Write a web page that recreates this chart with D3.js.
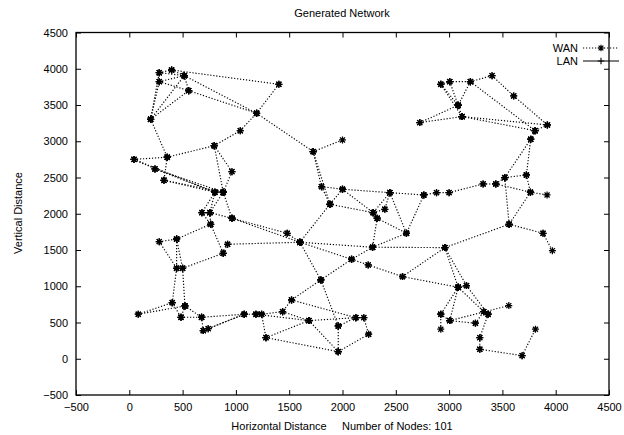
<!DOCTYPE html>
<html>
<head>
<meta charset="utf-8">
<script src="https://cdn.jsdelivr.net/npm/d3@7"></script>
<style>
  body { margin: 0; background: #fff; }
  text { font-family: "Liberation Sans", Arial, Helvetica, sans-serif; fill: #000; }
</style>
</head>
<body>
<svg id="chart" width="624" height="435"></svg>
<script>
// Node positions of the generated network
const nodeName = ["A1","A2","A3","A4","A5","A6","A7","A8","A9","A10","A11","A12","A13","A14","A15","A16","A17","A18","A19","A20","A21","A22","A23","A24","A25","A26","A27",
  "M1","M2","M3","M4","M5","M6","M7","M8","M9","M10","M11","M12","M13","M14","M15","M16","M17","M18",
  "R1","R2","R3","R4","R5","R6","R7","R8","R9","R10","R11","R12","R13","R14","R15","R16","R17","R18","R19","R20","R21","R22","R23",
  "R24","R25","R27","R28","R29","R30","R31","R32","R33","R34","R35","R36","R37",
  "B1","B2","B3","B4","B5","B6","B7","B8","B9","B10","B11",
  "C1","C2","C3","C4","C5","C6","C7","C8"];
const nodeX = [281,397,516,281,557,200,1041,797,1403,1194,44,356,241,325,963,803,881,681,756,963,763,281,444,922,881,444,500,
  1725,2000,1803,2000,1882,2444,2763,2288,2325,2397,2600,1481,1600,2282,2085,2241,2563,1797,
  2922,3006,3200,3403,3606,3085,3122,3922,3806,3766,2725,2882,3000,3319,3438,3522,3725,3763,3919,3563,3881,3969,2960,
  3163,3085,2922,3006,3325,3366,3247,3560,3288,3288,3685,3810,2922,
  1522,1438,1188,1241,1282,1685,1960,2125,2200,2245,1960,
  84,403,522,485,678,694,740,1078];
const nodeY = [3946,3983,3905,3822,3698,3303,3146,2939,3786,3386,2750,2780,2618,2462,2581,2297,2297,2015,2015,1938,1855,1615,1652,1579,1455,1248,1248,
  2857,3018,2374,2338,2131,2291,2259,2015,1938,2062,1731,1731,1607,1538,1372,1294,1133,1087,
  3786,3822,3822,3905,3625,3497,3340,3225,3146,3028,3257,2291,2291,2411,2411,2498,2535,2297,2259,1855,1731,1491,1533,
  1009,986,614,526,650,614,490,733,291,131,43,407,407,
  811,650,614,614,291,526,452,567,567,338,98,
  614,774,728,572,572,388,415,614];

// WAN links (pairs of node names)
const edgeFrom = ["A1","A1","A2","A4","A4","A3","A2","A3","A5","A9","A6","A6","A6","A6","A6","A11","A12","A8","A7","A8","A8","A11","A11","A12","A13","A13","A14","A14","A15","A16","A16","A17","A17","A18","A18","A19","A21","A22","A22","A23","A23","A21","A24","A25","A20","A24","A19",
  "A10","M1","M1","M1","M3","M4","M4","M6","M5","M4","M8","M8","M6","M6","M9","M6","M7","M7","M9","M12","M12","M13","M13","M13","M13","M14","M14","M14","M15","M16","M15","M17","M17","M3",
  "R1","R2","R3","R2","R1","R1","R3","R4","R5","R3","R7","R7","R6","R11","R11","R9","R8","R10","R10",
  "R12","R13","R14","R15","R16","R15","R17","R18","R16","R18","R20","R21","R20","R23","R23",
  "R24","R25","R25","R25","R24","R27","R28","R28","R29","R31","R30","R33","R34","R35","R37",
  "M18","M18","B1","B1","B2","B3","B4","B5","B5","B6","B6","B7","B7","B8","B9","B10","B2","B3","B3",
  "C1","C1","C2","C3","C2","C3","C4","C3","C5","C6","C7","C5","C6"];
const edgeTo = ["A2","A3","A3","A3","A5","A5","A9","A10","A10","A10","A1","A4","A3","A5","A12","A12","A8","A7","A10","A15","A17","A13","A16","A14","A16","A17","A16","A17","A17","A18","A19","A19","A20","A19","A21","A21","A23","A23","A26","A26","A27","A25","A25","A27","M13","M13","A20",
  "M1","M2","M3","M5","M4","M5","M6","M7","M8","M8","M9","M10","M10","M8","M11","M11","M11","R12","M14","M13","A20","M14","M5","M15","M18","M15","M11","R23","M18","M17","M16","R23","R25","M5",
  "R2","R3","R4","R6","R6","R7","R6","R5","R8","R9","R9","R8","R7","R6","R7","R10","R9","R16","R17",
  "R13","R14","R15","R16","R17","R18","R18","R19","R20","R20","R21","R22","R23","R24","R25",
  "R25","R27","R28","R29","R30","R28","R31","R32","R30","R29","R33","R34","R35","R36","R27",
  "B1","B7","B2","B8","B4","B6","B5","B11","B6","B8","B11","B8","B11","B9","B10","B11","B6","C8","B4",
  "C2","C3","A26","A27","C4","C4","C5","C5","C6","C8","C8","C8","C7"];

const xTicks = [-500,0,500,1000,1500,2000,2500,3000,3500,4000,4500];
const yTicks = [-500,0,500,1000,1500,2000,2500,3000,3500,4000,4500];

const svg = d3.select("#chart");
const plotLeft = 76, plotRight = 609, plotTop = 32.5, plotBottom = 395;
const x = d3.scaleLinear().domain([-500, 4500]).range([plotLeft, plotRight]);
const y = d3.scaleLinear().domain([-500, 4500]).range([plotBottom, plotTop]);

const idx = new Map(nodeName.map((n, i) => [n, i]));
const edges = edgeFrom.map((f, i) => ({ a: idx.get(f), b: idx.get(edgeTo[i]) }));

// asterisk point symbol (plus + cross)
function star(r) {
  const d = r * 0.72;
  return `M${-r},0L${r},0M0,${-r}L0,${r}M${-d},${-d}L${d},${d}M${-d},${d}L${d},${-d}`;
}
function plus(r) {
  return `M${-r},0L${r},0M0,${-r}L0,${r}`;
}

// axes with inward ticks on all four sides
const tickLen = 5;
const gx = svg.append("g").attr("transform", `translate(0,${plotBottom})`)
  .call(d3.axisBottom(x).tickValues(xTicks).tickFormat(d3.format("d")).tickSizeInner(-tickLen).tickSizeOuter(0).tickPadding(8));
const gy = svg.append("g").attr("transform", `translate(${plotLeft},0)`)
  .call(d3.axisLeft(y).tickValues(yTicks).tickFormat(d3.format("d")).tickSizeInner(-tickLen).tickSizeOuter(0).tickPadding(8));
const gt = svg.append("g").attr("transform", `translate(0,${plotTop})`)
  .call(d3.axisTop(x).tickValues(xTicks).tickFormat("").tickSizeInner(-tickLen).tickSizeOuter(0));
const gr = svg.append("g").attr("transform", `translate(${plotRight},0)`)
  .call(d3.axisRight(y).tickValues(yTicks).tickFormat("").tickSizeInner(-tickLen).tickSizeOuter(0));
[gx, gy, gt, gr].forEach(g => {
  g.select(".domain").remove();
  g.selectAll(".tick line").attr("stroke", "#000").attr("stroke-width", 1);
  g.selectAll(".tick text").style("font-size", "11px").attr("fill", "#000");
});

// frame
svg.append("rect").attr("x", plotLeft).attr("y", plotTop).attr("width", plotRight - plotLeft).attr("height", plotBottom - plotTop)
  .attr("fill", "none").attr("stroke", "#000").attr("stroke-width", 1.3);

// WAN links: dotted segments with a point at each end
const links = svg.append("g");
links.selectAll("line").data(edges).join("line")
  .attr("x1", d => x(nodeX[d.a])).attr("y1", d => y(nodeY[d.a]))
  .attr("x2", d => x(nodeX[d.b])).attr("y2", d => y(nodeY[d.b]))
  .attr("stroke", "#000").attr("stroke-width", 1.15).attr("stroke-dasharray", "1.2,1.8");
const ends = edges.flatMap(d => [d.a, d.b]);
links.selectAll("path").data(ends).join("path")
  .attr("transform", i => `translate(${x(nodeX[i])},${y(nodeY[i])})`)
  .attr("d", star(3.5)).attr("fill", "none").attr("stroke", "#000").attr("stroke-width", 1.25);

// title and axis labels
svg.append("text").attr("x", 342).attr("y", 17).attr("text-anchor", "middle").style("font-size", "11px").text("Generated Network");
svg.append("text").attr("x", 342).attr("y", 430).attr("text-anchor", "middle").style("font-size", "11px")
  .style("white-space", "pre").text("Horizontal Distance     Number of Nodes: 101");
svg.append("text").attr("transform", "translate(22,213) rotate(-90)").attr("text-anchor", "middle").style("font-size", "11px").text("Vertical Distance");

// legend
const lg = svg.append("g");
lg.append("text").attr("x", 578).attr("y", 52).attr("text-anchor", "end").style("font-size", "11px").text("WAN");
lg.append("line").attr("x1", 583).attr("x2", 619).attr("y1", 48).attr("y2", 48)
  .attr("stroke", "#000").attr("stroke-width", 1.15).attr("stroke-dasharray", "1.2,1.8");
lg.append("path").attr("transform", "translate(601,48)").attr("d", star(3.3)).attr("fill", "none").attr("stroke", "#000").attr("stroke-width", 1.2);
lg.append("text").attr("x", 578).attr("y", 65).attr("text-anchor", "end").style("font-size", "11px").text("LAN");
lg.append("line").attr("x1", 583).attr("x2", 619).attr("y1", 61).attr("y2", 61).attr("stroke", "#000");
lg.append("path").attr("transform", "translate(601,61)").attr("d", plus(3.3)).attr("fill", "none").attr("stroke", "#000").attr("stroke-width", 1.1);
</script>
</body>
</html>
